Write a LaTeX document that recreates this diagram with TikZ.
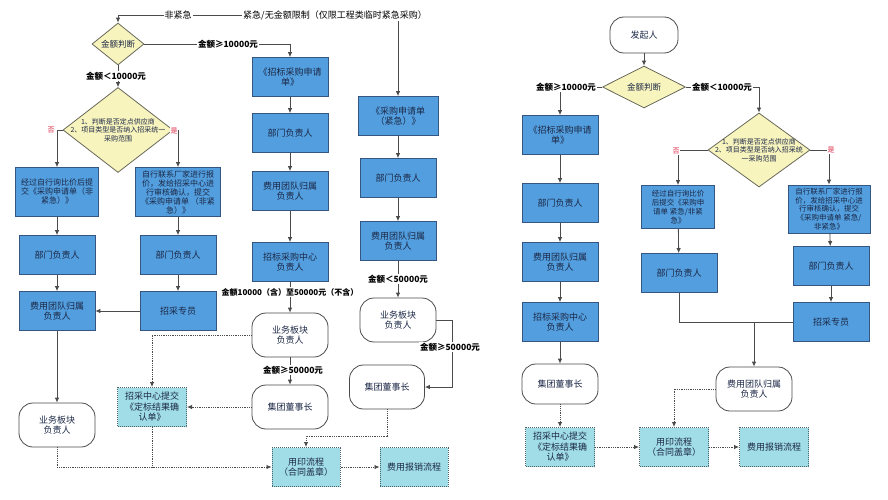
\documentclass[tikz,border=0pt]{standalone}
\usepackage{fontspec}
\setmainfont{Noto Sans CJK SC}
\usepackage{tikz}
\usetikzlibrary{shapes.geometric, arrows.meta}
\definecolor{flowblue}{RGB}{82,158,222}
\definecolor{flowedge}{RGB}{52,86,128}
\definecolor{flowtext}{RGB}{28,40,70}
\definecolor{decfill}{RGB}{248,244,190}
\definecolor{decedge}{RGB}{105,105,90}
\definecolor{docfill}{RGB}{160,221,230}
\definecolor{docedge}{RGB}{70,100,110}
\definecolor{wireg}{RGB}{75,75,75}
\definecolor{nored}{RGB}{220,40,70}

\begin{document}
\begin{tikzpicture}[x=1pt, y=-1pt,
  stepbox/.style={draw=flowedge, fill=flowblue, line width=0.8pt,
                  minimum width=76pt, minimum height=39pt, inner sep=1pt,
                  align=center, text=flowtext, font=\fontsize{9}{10.5}\selectfont},
  smallbox/.style={stepbox, font=\fontsize{8}{9}\selectfont},
  decision/.style={diamond, draw=decedge, fill=decfill, line width=0.8pt,
                   inner sep=0pt, align=center, text=flowtext,
                   font=\fontsize{8.5}{10}\selectfont},
  dectext/.style={align=center, text=flowtext, inner sep=0pt,
                  font=\fontsize{7}{8.5}\selectfont},
  terminal/.style={draw=wireg, fill=white, rounded corners=14pt, line width=0.8pt,
                   minimum width=76pt, minimum height=44pt, align=center,
                   text=flowtext, font=\fontsize{9}{10.5}\selectfont},
  docbox/.style={draw=docedge, fill=docfill, densely dotted, line width=1pt,
                 minimum width=69pt, minimum height=39pt, inner sep=1pt,
                 align=center, text=flowtext, font=\fontsize{9}{10.5}\selectfont},
  flow/.style={-{Latex[length=5pt,width=4.5pt]}, line width=0.8pt, wireg},
  wire/.style={line width=0.8pt, wireg},
  dotflow/.style={flow, densely dotted},
  dotwire/.style={wire, densely dotted},
  cond/.style={fill=white, inner sep=1pt, text=black,
               font=\fontsize{8.5}{10}\selectfont\bfseries},
  yesno/.style={fill=white, inner sep=0.5pt, text=nored,
                font=\fontsize{7}{8}\selectfont}
]
  \fill[white] (0,0) rectangle (888,500);
  \useasboundingbox (0,0) rectangle (888,500);

  %% Left chart -- decisions
  \node[decision, minimum width=52pt, minimum height=37pt] (amtA) at (118,44) {金额判断};
  \node[decision, minimum width=110pt, minimum height=85pt] (chkA) at (118,130) {};
  \node[dectext] (chkAtext) at (chkA) {1、判断是否定点供应商\\2、项目类型是否纳入招采统一\\采购范围};

  %% Left chart -- non urgent, < 10000
  \node[smallbox, minimum width=83pt, minimum height=49pt] (selfA) at (57,192)
    {经过自行询比价后提\\交《采购申请单（非\\紧急）》};
  \node[smallbox, minimum width=85pt, minimum height=49pt] (venA) at (178,192)
    {自行联系厂家进行报\\价，发给招采中心进\\行审核确认，提交\\《采购申请单 （非紧\\急）》};
  \node[stepbox] (deptA1) at (57,255)  {部门负责人};
  \node[stepbox] (deptA2) at (178,255) {部门负责人};
  \node[stepbox] (teamA1) at (57,311)  {费用团队归属\\负责人};
  \node[stepbox] (buyerA) at (178,311) {招采专员};
  \node[terminal] (bizA1) at (57,425)  {业务板块\\负责人};

  %% Left chart -- non urgent, >= 10000
  \node[stepbox] (bidA)    at (290,77)  {《招标采购申请\\单》};
  \node[stepbox] (deptA3)  at (290,133) {部门负责人};
  \node[stepbox] (teamA2)  at (290,191) {费用团队归属\\负责人};
  \node[stepbox] (centerA) at (290,262) {招标采购中心\\负责人};
  \node[terminal] (bizA2)  at (290,335) {业务板块\\负责人};
  \node[terminal] (chairA1) at (290,407) {集团董事长};

  %% Left chart -- urgent
  \node[stepbox, minimum width=80pt] (urgA) at (398,116) {《采购申请单\\（紧急）》};
  \node[stepbox] (deptA4) at (398,178) {部门负责人};
  \node[stepbox] (teamA3) at (398,241) {费用团队归属\\负责人};
  \node[terminal] (bizA3) at (398,320) {业务板块\\负责人};
  \node[terminal, minimum width=75pt] (chairA2) at (387,387) {集团董事长};

  %% Left chart -- documents
  \node[docbox] (confirmA) at (152,407) {招采中心提交\\《定标结果确\\认单》};
  \node[docbox, minimum width=68pt] (sealA)  at (306,467) {用印流程\\（合同盖章）};
  \node[docbox, minimum width=68pt] (reimbA) at (414,467) {费用报销流程};

  %% Left chart -- connectors
  \coordinate (topA) at (250,15);
  \draw[flow] (topA) -| (amtA.north);
  \draw[flow] (topA) -| (urgA.north);
  \draw[flow] (amtA.east) -| (bidA.north);
  \draw[flow] (amtA.south) -- (chkA.north);
  \draw[flow] (chkA.west) -| (selfA.north);
  \draw[flow] (chkA.east) -| (venA.north);
  \draw[flow] (selfA) -- (deptA1);
  \draw[flow] (deptA1) -- (teamA1);
  \draw[flow] (venA) -- (deptA2);
  \draw[flow] (deptA2) -- (buyerA);
  \draw[flow] (buyerA) -- (teamA1);
  \draw[flow] (teamA1) -- (bizA1);
  \draw[flow] (bidA) -- (deptA3);
  \draw[flow] (deptA3) -- (teamA2);
  \draw[flow] (teamA2) -- (centerA);
  \draw[flow] (centerA) -- (bizA2);
  \draw[flow] (bizA2) -- (chairA1);
  \draw[flow] (urgA) -- (deptA4);
  \draw[flow] (deptA4) -- (teamA3);
  \draw[flow] (teamA3) -- (bizA3);
  \draw[flow] (bizA3.east) -- ++(16,0) |- (chairA2.east);
  \draw[dotflow] (bizA1.south) |- (sealA.west);
  \draw[dotflow] (bizA2.west) -| (confirmA.north);
  \draw[dotflow] (chairA1.west) -- (confirmA.east);
  \draw[dotwire] (confirmA.south) -- (confirmA.south |- sealA.west);
  \draw[dotflow] (chairA2.south) -- ++(0,27) -| (sealA.north);
  \draw[dotflow] (sealA) -- (reimbA);

  %% Left chart -- labels
  \node[cond, font=\fontsize{9}{10}\selectfont] (lblA1) at (178,15) {非紧急};
  \node[cond, font=\fontsize{9}{10}\selectfont] (lblA2) at (335,15) {紧急/无金额限制（仅限工程类临时紧急采购）};
  \node[cond] (lblA3) at (228,44)  {金额≥10000元};
  \node[cond] (lblA4) at (116,76)  {金额＜10000元};
  \node[yesno] (noA)  at (51,130)  {否};
  \node[yesno] (yesA) at (174,131) {是};
  \node[cond, font=\fontsize{8}{9}\selectfont\bfseries] (lblA5) at (290,292) {金额10000（含）至50000元（不含）};
  \node[cond] (lblA6) at (293,370) {金额≥50000元};
  \node[cond] (lblA7) at (398,279) {金额＜50000元};
  \node[cond] (lblA8) at (450,347) {金额≥50000元};

  %% Right chart -- nodes
  \node[terminal, minimum width=68pt, minimum height=36pt] (startB) at (644,35) {发起人};
  \node[decision, minimum width=83pt, minimum height=39pt] (amtB) at (644,87) {金额判断};
  \node[stepbox] (bidB)    at (560,135) {《招标采购申请\\单》};
  \node[stepbox] (deptB1)  at (560,203) {部门负责人};
  \node[stepbox] (teamB1)  at (560,262) {费用团队归属\\负责人};
  \node[stepbox] (centerB) at (560,322) {招标采购中心\\负责人};
  \node[terminal, minimum height=40pt] (chairB) at (560,384) {集团董事长};
  \node[docbox] (confirmB) at (560,447) {招采中心提交\\《定标结果确\\认单》};
  \node[docbox] (sealB)    at (674,447) {用印流程\\（合同盖章）};
  \node[docbox] (reimbB)   at (774,447) {费用报销流程};

  \node[decision, minimum width=102pt, minimum height=74pt] (chkB) at (759,150) {};
  \node[dectext] (chkBtext) at (chkB) {1、判断是否定点供应商\\2、项目类型是否纳入招采统\\一采购范围};
  \node[smallbox, minimum width=73pt, minimum height=43pt, font=\fontsize{7.5}{8.8}\selectfont] (selfB) at (678,207)
    {经过自行询比价\\后提交《采购申\\请单 紧急/非紧\\急》};
  \node[smallbox, minimum width=82pt, minimum height=48pt, font=\fontsize{7.5}{8.8}\selectfont] (venB) at (829,209)
    {自行联系厂家进行报\\价，发给招采中心进\\行审核确认，提交\\《采购申请单 紧急/\\非紧急》};
  \node[stepbox] (deptB2)  at (679,273) {部门负责人};
  \node[stepbox] (deptB3)  at (831,266) {部门负责人};
  \node[stepbox] (buyerB)  at (831,322) {招采专员};
  \node[terminal] (teamB2) at (754,389) {费用团队归属\\负责人};

  %% Right chart -- connectors
  \coordinate (joinB) at (754,322);
  \draw[flow] (startB) -- (amtB);
  \draw[flow] (amtB.west) -| (bidB.north);
  \draw[flow] (amtB.east) -| (chkB.north);
  \draw[flow] (bidB) -- (deptB1);
  \draw[flow] (deptB1) -- (teamB1);
  \draw[flow] (teamB1) -- (centerB);
  \draw[flow] (centerB) -- (chairB);
  \draw[flow] (chkB.west) -| (selfB.north);
  \draw[flow] (chkB.east) -| (venB.north);
  \draw[flow] (selfB) -- (deptB2);
  \draw[flow] (venB) -- (deptB3);
  \draw[flow] (deptB3) -- (buyerB);
  \draw[wire] (deptB2.south) |- (joinB);
  \draw[wire] (buyerB.west) -- (joinB);
  \draw[flow] (joinB) -- (teamB2.north);
  \draw[dotflow] (chairB) -- (confirmB);
  \draw[dotflow] (confirmB) -- (sealB);
  \draw[dotflow] (sealB) -- (reimbB);
  \draw[dotflow] (teamB2.west) -| (sealB.north);

  %% Right chart -- labels
  \node[cond] (lblB1) at (566,87) {金额≥10000元};
  \node[cond] (lblB2) at (722,87) {金额＜10000元};
  \node[yesno] (noB)  at (676,151) {否};
  \node[yesno] (yesB) at (831,150) {是};
\end{tikzpicture}
\end{document}
